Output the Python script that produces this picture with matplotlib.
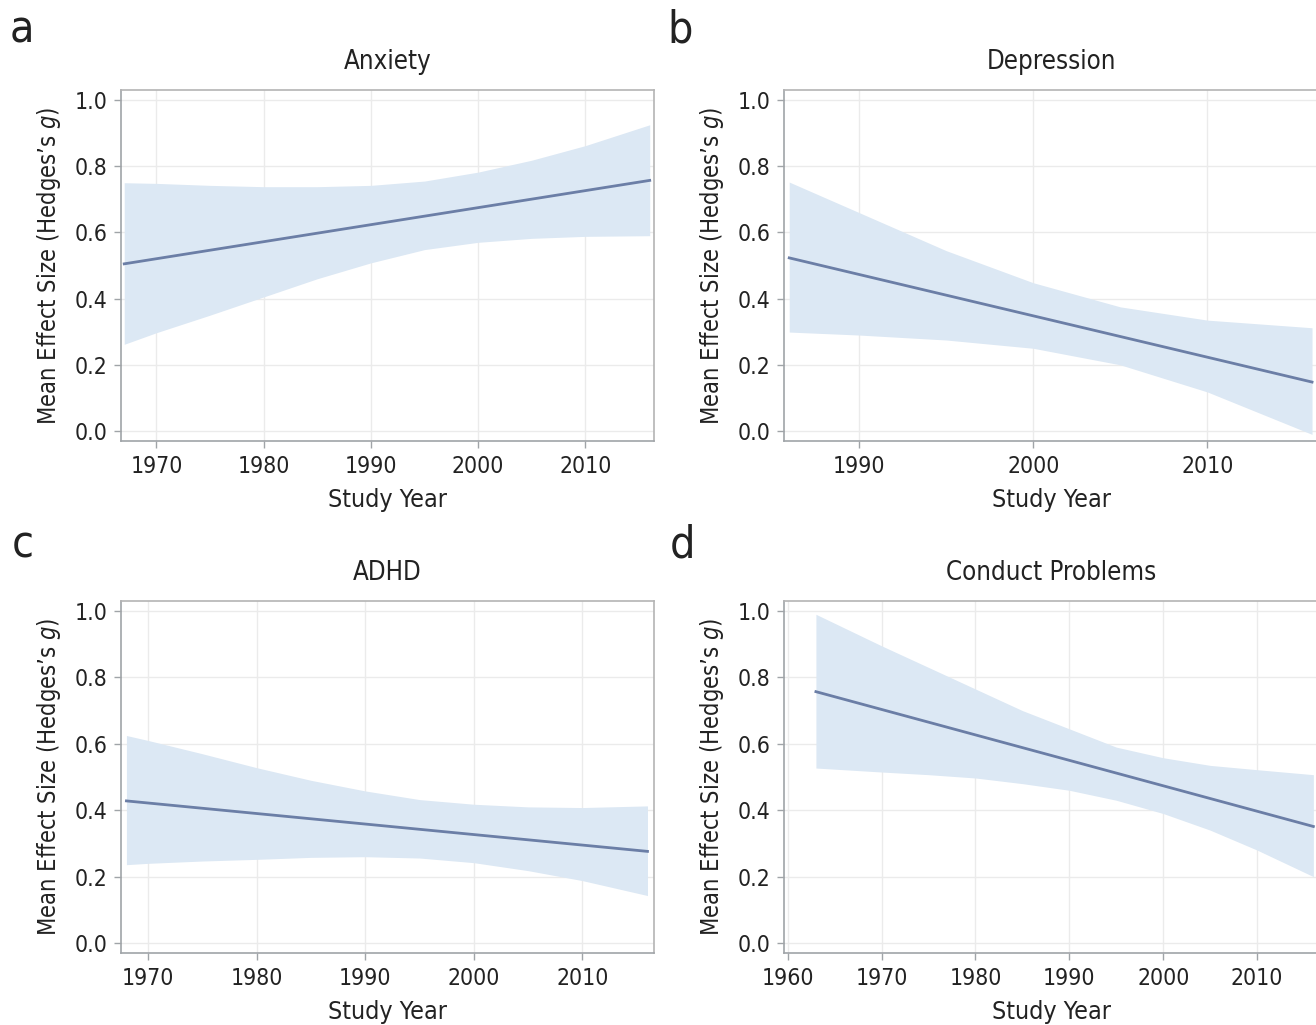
import matplotlib
matplotlib.use("Agg")
import matplotlib.pyplot as plt
from matplotlib import font_manager

# the reference uses a condensed grotesque; pick the narrowest installed face
names = {f.name for f in font_manager.fontManager.ttflist}
cond = [f for f in font_manager.fontManager.ttflist
        if f.name == 'DejaVu Sans' and f.stretch == 'condensed']
if 'Liberation Sans Narrow' in names:
    base = 'Liberation Sans Narrow'
    plt.rcParams['font.family'] = [base, 'DejaVu Sans']
elif cond:
    base = 'DejaVu Sans'
    plt.rcParams['font.family'] = [base]
    plt.rcParams['font.stretch'] = 'condensed'
else:
    base = 'Roboto'
    plt.rcParams['font.family'] = [base, 'DejaVu Sans']
plt.rcParams['mathtext.fontset'] = 'custom'
plt.rcParams['mathtext.it'] = base + ':italic'
plt.rcParams['mathtext.rm'] = base

# --- data ---
titles = ["Anxiety", "Depression", "ADHD", "Conduct Problems"]
letters = ["a", "b", "c", "d"]

anx_years = [1967, 1970, 1975, 1980, 1985, 1990, 1995, 2000, 2005, 2010, 2016]
anx_upper = [0.750, 0.748, 0.742, 0.738, 0.738, 0.742, 0.755, 0.782, 0.818, 0.862, 0.925]
anx_lower = [0.262, 0.297, 0.350, 0.405, 0.460, 0.508, 0.548, 0.570, 0.582, 0.588, 0.590]
anx_line_x = [1967, 2016]
anx_line_y = [0.505, 0.757]

dep_years = [1986, 1990, 1995, 2000, 2005, 2010, 2016]
dep_upper = [0.752, 0.660, 0.545, 0.448, 0.375, 0.335, 0.312]
dep_lower = [0.299, 0.290, 0.275, 0.250, 0.200, 0.118, -0.010]
dep_line_x = [1986, 2016]
dep_line_y = [0.523, 0.148]

adhd_years = [1968, 1970, 1975, 1980, 1985, 1990, 1995, 2000, 2005, 2010, 2016]
adhd_upper = [0.625, 0.610, 0.570, 0.528, 0.490, 0.458, 0.432, 0.418, 0.410, 0.408, 0.413]
adhd_lower = [0.236, 0.240, 0.247, 0.252, 0.258, 0.260, 0.256, 0.242, 0.218, 0.188, 0.143]
adhd_line_x = [1968, 2016]
adhd_line_y = [0.428, 0.276]

cp_years = [1963, 1970, 1975, 1980, 1985, 1990, 1995, 2000, 2005, 2010, 2016]
cp_upper = [0.990, 0.895, 0.830, 0.765, 0.700, 0.645, 0.590, 0.558, 0.535, 0.522, 0.507]
cp_lower = [0.527, 0.515, 0.507, 0.497, 0.480, 0.460, 0.430, 0.390, 0.340, 0.280, 0.200]
cp_line_x = [1963, 2016]
cp_line_y = [0.757, 0.351]

y_ticks = [0.0, 0.2, 0.4, 0.6, 0.8, 1.0]

panels = [
    (anx_years, anx_upper, anx_lower, anx_line_x, anx_line_y, (1966.7, 2016.4), [1970, 1980, 1990, 2000, 2010]),
    (dep_years, dep_upper, dep_lower, dep_line_x, dep_line_y, (1985.7, 2016.4), [1990, 2000, 2010]),
    (adhd_years, adhd_upper, adhd_lower, adhd_line_x, adhd_line_y, (1967.5, 2016.6), [1970, 1980, 1990, 2000, 2010]),
    (cp_years, cp_upper, cp_lower, cp_line_x, cp_line_y, (1959.6, 2016.6), [1960, 1970, 1980, 1990, 2000, 2010]),
]

W, H = 1316, 1025
fig = plt.figure(figsize=(W / 100, H / 100), dpi=100)

# axes boxes in pixels: left, top, width, height
boxes = [(121, 90, 533, 351), (784, 90, 535, 351), (121, 601, 533, 352), (784, 601, 535, 352)]
letter_pos = [(10, 30), (667, 30), (12, 545), (670, 545)]

band_col = '#dce8f4'
line_col = '#6b7ea6'
frame_col = '#b4b4b4'
txt_col = '#222222'

for i, (yrs, up, lo, lx, ly, xlim, xt) in enumerate(panels):
    l, t, w, h = boxes[i]
    ax = fig.add_axes([l / W, (H - t - h) / H, w / W, h / H])
    ax.fill_between(yrs, lo, up, color=band_col, lw=0, zorder=2)
    ax.plot(lx, ly, color=line_col, lw=2, zorder=3)
    ax.set_xlim(*xlim)
    ax.set_ylim(-0.03, 1.03)
    ax.set_xticks(xt)
    ax.set_yticks(y_ticks)
    ax.set_yticklabels([f"{v:.1f}" for v in y_ticks])
    ax.grid(True, color='#ebebeb', lw=1, zorder=0)
    ax.set_axisbelow(True)
    for s in ax.spines.values():
        s.set_color(frame_col)
        s.set_linewidth(1.2)
    ax.spines['left'].set_color('#a0a4a8')
    ax.spines['bottom'].set_color('#a0a4a8')
    ax.tick_params(axis='both', colors='#a0a4a8', length=5, width=1, labelsize=16.5,
                   labelcolor=txt_col, pad=5)
    ax.set_title(titles[i], fontsize=18.5, color=txt_col, pad=15)
    ax.set_xlabel("Study Year", fontsize=18, color=txt_col, labelpad=7)
    ax.set_ylabel("Mean Effect Size (Hedges\u2019s $\\mathit{g}$)", fontsize=17,
                  color=txt_col, labelpad=8)
    lx0, ly0 = letter_pos[i]
    fig.text(lx0 / W, 1 - ly0 / H, letters[i], fontsize=32, color=txt_col,
             ha='left', va='center')

fig.savefig("out.png", dpi=100)
